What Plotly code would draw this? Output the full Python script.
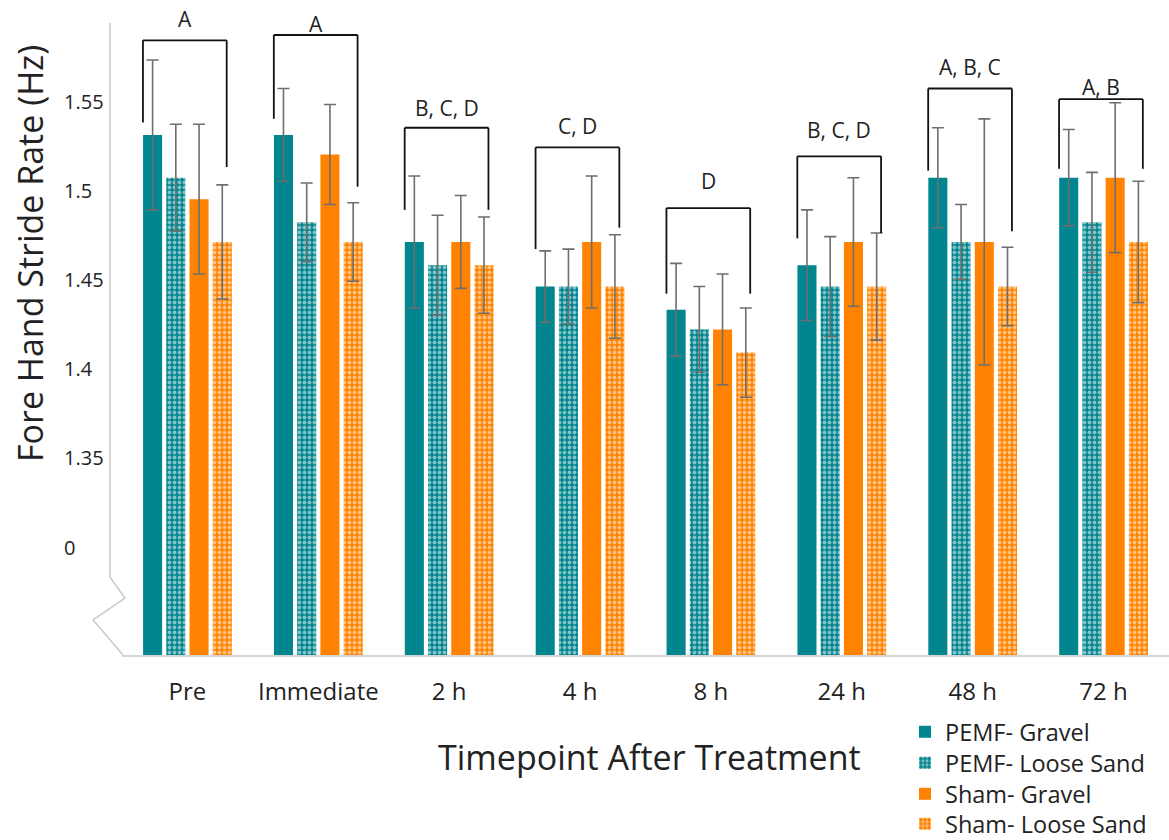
import plotly.graph_objects as go

# ---------------- data ----------------
categories = ["Pre", "Immediate", "2 h", "4 h", "8 h", "24 h", "48 h", "72 h"]

pemf_gravel = [1.531, 1.531, 1.471, 1.446, 1.433, 1.458, 1.507, 1.507]
pemf_gravel_err = [0.042, 0.026, 0.037, 0.020, 0.026, 0.031, 0.028, 0.027]

pemf_sand = [1.507, 1.482, 1.458, 1.446, 1.422, 1.446, 1.471, 1.482]
pemf_sand_err = [0.030, 0.022, 0.028, 0.021, 0.024, 0.028, 0.021, 0.028]

sham_gravel = [1.495, 1.520, 1.471, 1.471, 1.422, 1.471, 1.471, 1.507]
sham_gravel_err = [0.042, 0.028, 0.026, 0.037, 0.031, 0.036, 0.069, 0.042]

sham_sand = [1.471, 1.471, 1.458, 1.446, 1.409, 1.446, 1.446, 1.471]
sham_sand_err = [0.032, 0.022, 0.027, 0.029, 0.025, 0.030, 0.022, 0.034]

# significance brackets
bracket_labels = ["A", "A", "B, C, D", "C, D", "D", "B, C, D", "A, B, C", "A, B"]
bracket_top = [1.584, 1.587, 1.535, 1.524, 1.490, 1.519, 1.557, 1.551]
bracket_left_end = [1.538, 1.540, 1.489, 1.467, 1.442, 1.473, 1.511, 1.512]
bracket_right_end = [1.513, 1.502, 1.489, 1.479, 1.442, 1.476, 1.477, 1.512]
bracket_label_y = [1.596, 1.593, 1.546, 1.536, 1.505, 1.534, 1.569, 1.558]

ytick_vals = [1.30, 1.35, 1.40, 1.45, 1.50, 1.55]
ytick_text = ["0", "1.35", "1.4", "1.45", "1.5", "1.55"]

# ---------------- style ----------------
TEAL = "#01858E"
ORANGE = "#FF8300"
ERR_COLOR = "#6E6E6E"
FONT = "Open Sans"
TXT = "#222222"

W, H = 1169, 840
L, R, T, B = 122, 0, 10, 185
PW, PH = W - L - R, H - T - B


def px_x(px):
    return (px - L) / PW


def px_y(py):
    return (H - B - py) / PH


fig = go.Figure()

series = [
    ("PEMF- Gravel", pemf_gravel, pemf_gravel_err, TEAL, False),
    ("PEMF- Loose Sand", pemf_sand, pemf_sand_err, TEAL, True),
    ("Sham- Gravel", sham_gravel, sham_gravel_err, ORANGE, False),
    ("Sham- Loose Sand", sham_sand, sham_sand_err, ORANGE, True),
]
legend_ids = ["legend", "legend2", "legend3", "legend4"]
legend_rows_px = [732, 763, 794, 824]

for (name, vals, errs, color, patterned), lid in zip(series, legend_ids):
    marker = dict(color=color, line=dict(width=0))
    if patterned:
        marker["pattern"] = dict(shape=".", fgcolor="white", bgcolor=color,
                                 size=5, solidity=0.45, fillmode="overlay")
    fig.add_trace(go.Bar(
        x=categories, y=vals, name=name, marker=marker, legend=lid,
        error_y=dict(type="data", array=errs, visible=True,
                     color=ERR_COLOR, thickness=1.6, width=6),
    ))

# brackets
shapes = []
annotations = []
for i, lab in enumerate(bracket_labels):
    xl, xr = i - 0.34, i + 0.30
    line = dict(color="#111111", width=1.8)
    shapes.append(dict(type="line", xref="x", yref="y", x0=xl, x1=xl,
                       y0=bracket_left_end[i], y1=bracket_top[i], line=line))
    shapes.append(dict(type="line", xref="x", yref="y", x0=xl, x1=xr,
                       y0=bracket_top[i], y1=bracket_top[i], line=line))
    shapes.append(dict(type="line", xref="x", yref="y", x0=xr, x1=xr,
                       y0=bracket_top[i], y1=bracket_right_end[i], line=line))
    annotations.append(dict(x=(xl + xr) / 2, y=bracket_label_y[i], xref="x", yref="y",
                            text=lab, showarrow=False, xanchor="center", yanchor="middle",
                            font=dict(family=FONT, size=21, color=TXT)))

# y axis line with break (zig-zag)
axis_pts = [(110, 23), (110, 577), (125, 598), (93, 620), (123, 655)]
path = "M " + " L ".join(f"{px_x(x):.5f},{px_y(y):.5f}" for x, y in axis_pts)
shapes.append(dict(type="path", xref="paper", yref="paper", path=path,
                   line=dict(color="#C8C8C8", width=1.5)))

# y tick labels (left aligned)
for v, t in zip(ytick_vals, ytick_text):
    annotations.append(dict(x=px_x(62), y=v, xref="paper", yref="y", text=t,
                            showarrow=False, xanchor="left", yanchor="middle",
                            font=dict(family=FONT, size=20, color=TXT)))

# axis titles
annotations.append(dict(x=px_x(649), y=px_y(757), xref="paper", yref="paper",
                        text="Timepoint After Treatment", showarrow=False,
                        xanchor="center", yanchor="middle",
                        font=dict(family=FONT, size=34, color=TXT)))
annotations.append(dict(x=px_x(30), y=px_y(254), xref="paper", yref="paper",
                        text="Fore Hand Stride Rate (Hz)", showarrow=False,
                        textangle=-90, xanchor="center", yanchor="middle",
                        font=dict(family=FONT, size=34, color=TXT)))

legend_layout = {}
for lid, row in zip(legend_ids, legend_rows_px):
    legend_layout[lid] = dict(x=px_x(905), y=px_y(row), xanchor="left", yanchor="middle",
                              font=dict(family=FONT, size=23.5, color=TXT),
                              bgcolor="rgba(0,0,0,0)", itemsizing="constant")

fig.update_layout(
    width=W, height=H,
    margin=dict(l=L, r=R, t=T, b=B, autoexpand=False),
    paper_bgcolor="white", plot_bgcolor="white",
    barmode="group", bargap=0.29, bargroupgap=0.18,
    font=dict(family=FONT, color=TXT),
    showlegend=True,
    xaxis=dict(showline=True, linecolor="#D5D5D5", linewidth=1.5,
               showgrid=False, zeroline=False, ticks="",
               tickfont=dict(family=FONT, size=24, color=TXT),
               ticklabelstandoff=14),
    yaxis=dict(range=[1.2395, 1.601], showline=False, showgrid=False,
               zeroline=False, showticklabels=False, ticks=""),
    shapes=shapes,
    annotations=annotations,
    **legend_layout,
)

fig.write_html("out.html")
